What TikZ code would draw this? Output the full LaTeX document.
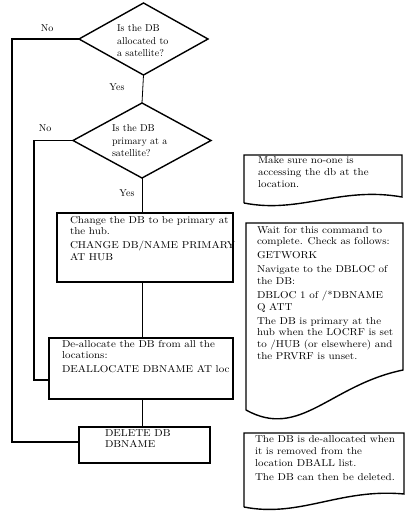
\documentclass[tikz,border=0pt]{standalone}
\usepackage{fontspec}
\newfontfamily\widefont{Latin Modern Roman}[FakeStretch=1.1]
\usetikzlibrary{shapes.geometric}
\begin{document}
\begin{tikzpicture}[x=1pt,y=-1pt,
  every node/.style={inner sep=0pt,outer sep=0pt},
  txt/.style={anchor=north west,align=left,font=\widefont\fontsize{10}{11.6}\selectfont},
  dtxt/.style={anchor=north west,align=left,font=\fontsize{10}{12.2}\selectfont},
  lbl/.style={font=\fontsize{10}{12}\selectfont},
  shapeline/.style={draw=black,line width=1.4pt},
  conn/.style={draw=black,line width=0.8pt},
  branch/.style={draw=black,line width=1.4pt}]
\useasboundingbox (0,0) rectangle (408,525);
% decisions
\node[diamond,shapeline,minimum width=129pt,minimum height=72pt,aspect=1.8] (d1) at (143.5,39) {};
\node[dtxt] (d1t) at (117,25) {Is the DB\\allocated to\\a satellite?};
\node[diamond,shapeline,minimum width=138pt,minimum height=75pt,aspect=1.84] (d2) at (142,140.5) {};
\node[dtxt] (d2t) at (112,125) {Is the DB\\primary at a\\satellite?};
% process boxes
\node[shapeline,draw,minimum width=176pt,minimum height=69pt] (chg) at (145,247.5) {};
\node[txt] (chgt) at (70,216) {Change the DB to be primary at\\the hub.\\[2.5pt]CHANGE DB/NAME PRIMARY\\AT HUB};
\node[shapeline,draw,minimum width=184pt,minimum height=61pt] (dea) at (141,368.5) {};
\node[txt] (deat) at (62,340) {De-allocate the DB from all the\\locations:\\[2.5pt]DEALLOCATE DBNAME AT loc};
\node[shapeline,draw,minimum width=131pt,minimum height=36pt] (del) at (144.5,445) {};
\node[txt] (delt) at (105,429.5) {DELETE DB\\DBNAME};
% labels
\node[lbl] (no1) at (47,28) {No};
\node[lbl] (no2) at (45,128) {No};
\node[lbl] (yes1) at (117,87) {Yes};
\node[lbl] (yes2) at (127,193) {Yes};
% connectors
\draw[conn] (d1.south) -- (d2.north);
\draw[conn] (d2.south) -- (chg.north -| d2.south);
\draw[conn] (chg.south -| d2.south) -- (dea.north -| d2.south);
\draw[conn] (dea.south -| d2.south) -- (del.north -| d2.south);
\coordinate (c1a) at (12,39);
\coordinate (c1b) at (12,442);
\draw[branch] (d1.west) -- (c1a) -- (c1b) -- (c1b -| del.west);
\coordinate (c2a) at (34,140.5);
\coordinate (c2b) at (34,380);
\draw[branch] (d2.west) -- (c2a) -- (c2b) -- (c2b -| dea.west);
% notes
\coordinate (n1a) at (244,155);
\coordinate (n1b) at (402,155);
\coordinate (n1c) at (402,197);
\coordinate (n1d) at (244,203);
\draw[shapeline,line join=miter] (n1d) -- (n1a) -- (n1b) -- (n1c) .. controls (340,186) and (300,214) .. (n1d);
\node[txt] (n1t) at (258,157) {Make sure no-one is\\accessing the db at the\\location.};
\coordinate (n2a) at (246,223);
\coordinate (n2b) at (403,223);
\coordinate (n2c) at (403,370);
\coordinate (n2d) at (246,410);
\draw[shapeline,line join=miter] (n2d) -- (n2a) -- (n2b) -- (n2c) .. controls (330,385) and (300,440) .. (n2d);
\node[txt] (n2t) at (257,226) {Wait for this command to\\complete. Check as follows:\\[2.5pt]GETWORK\\[2.5pt]Navigate to the DBLOC of\\the DB:\\[2.5pt]DBLOC 1 of /*DBNAME\\Q ATT\\[2.5pt]The DB is primary at the\\hub when the LOCRF is set\\to /HUB (or elsewhere) and\\the PRVRF is unset.};
\coordinate (n3a) at (244,433);
\coordinate (n3b) at (404,433);
\coordinate (n3c) at (404,494);
\coordinate (n3d) at (244,507);
\draw[shapeline,line join=miter] (n3d) -- (n3a) -- (n3b) -- (n3c) .. controls (340,488) and (300,518) .. (n3d);
\node[txt] (n3t) at (255,436) {The DB is de-allocated when\\it is removed from the\\location DBALL list.\\[2.5pt]The DB can then be deleted.};
\end{tikzpicture}
\end{document}
